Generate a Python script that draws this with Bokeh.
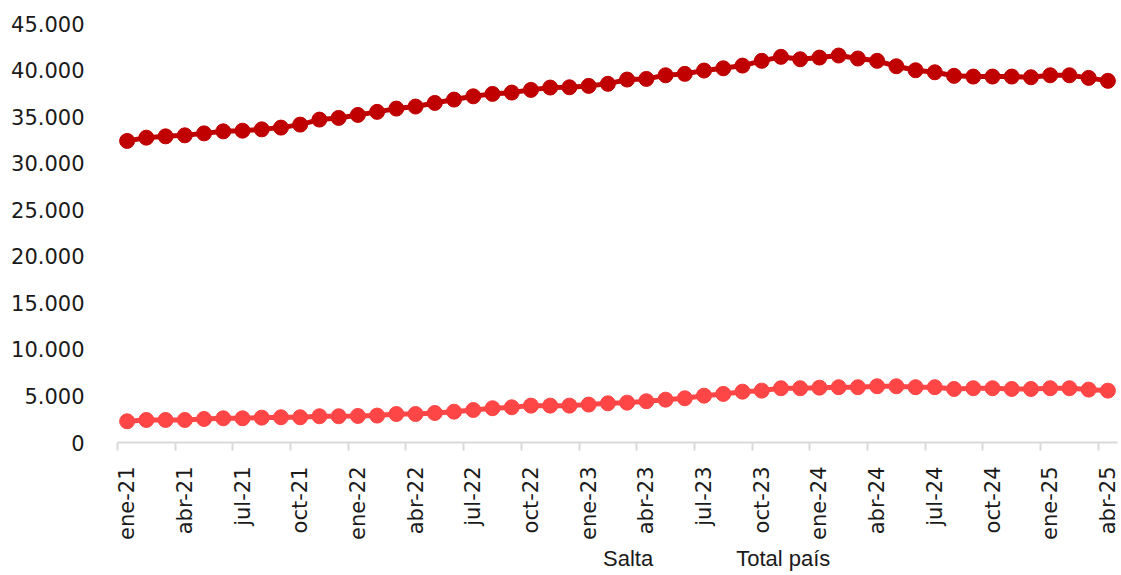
import math
from bokeh.plotting import figure
from bokeh.layouts import column
from bokeh.models import ColumnDataSource, FixedTicker, Range1d, Legend, LegendItem
from bokeh.embed import file_html
from bokeh.resources import INLINE

months = ["ene", "feb", "mar", "abr", "may", "jun", "jul", "ago", "sep", "oct", "nov", "dic"]
categories = [f"{m}-{y}" for y in ["21", "22", "23", "24"] for m in months] + ["ene-25", "feb-25", "mar-25", "abr-25"]

salta = [2280, 2420, 2420, 2420, 2530, 2600, 2600, 2670, 2710, 2710,
         2820, 2820, 2850, 2890, 3060, 3060, 3170, 3310, 3490, 3680,
         3780, 3960, 3960, 3960, 4070, 4210, 4280, 4430, 4600, 4750,
         5030, 5220, 5460, 5570, 5830, 5830, 5890, 5940, 5940, 6040,
         6040, 5940, 5940, 5750, 5830, 5830, 5750, 5750, 5830, 5830,
         5680, 5570]

total_pais = [32390, 32740, 32880, 32990, 33200, 33420, 33490, 33630, 33820, 34140,
              34680, 34860, 35180, 35510, 35860, 36080, 36470, 36830, 37180, 37440,
              37580, 37870, 38120, 38150, 38300, 38520, 38980, 39050, 39440, 39590,
              39950, 40190, 40480, 40990, 41420, 41160, 41340, 41560, 41240, 40990,
              40410, 39980, 39760, 39380, 39300, 39300, 39300, 39230, 39440, 39440,
              39160, 38840]

y_ticks = list(range(0, 45001, 5000))
y_labels = ["0", "5.000", "10.000", "15.000", "20.000", "25.000", "30.000", "35.000", "40.000", "45.000"]

series_names = ["Salta", "Total país"]
series_colors = ["#FF4646", "#C00000"]

x = list(range(len(categories)))
src = ColumnDataSource(dict(x=x, cat=categories, salta=salta, total=total_pais))

p = figure(frame_width=1000, frame_height=419, output_backend="svg", toolbar_location=None,
           x_range=Range1d(-0.5, len(categories) - 0.5), y_range=Range1d(0, 45000),
           min_border_left=117, min_border_right=4, min_border_top=23, min_border_bottom=0)
p.outline_line_color = None
p.xgrid.visible = False
p.ygrid.visible = False
p.background_fill_color = "white"
p.border_fill_color = "white"

p.line("x", "salta", source=src, line_color=series_colors[0], line_width=5)
p.scatter("x", "salta", source=src, size=15, fill_color=series_colors[0], line_color=series_colors[0])
p.line("x", "total", source=src, line_color=series_colors[1], line_width=5)
p.scatter("x", "total", source=src, size=15, fill_color=series_colors[1], line_color=series_colors[1])

# Y axis
ya = p.yaxis[0]
ya.ticker = FixedTicker(ticks=y_ticks)
ya.major_label_overrides = {t: l for t, l in zip(y_ticks, y_labels)}
ya.axis_line_color = None
ya.major_tick_line_color = None
ya.minor_tick_line_color = None
ya.major_label_standoff = 27
ya.major_label_text_font = "DejaVu Sans"
ya.major_label_text_font_size = "21px"
ya.major_label_text_color = "#1a1a1a"

# X axis
label_idx = list(range(0, len(categories), 3))
boundaries = [i - 0.5 for i in label_idx]
xa = p.xaxis[0]
xa.ticker = FixedTicker(ticks=label_idx, minor_ticks=boundaries)
xa.major_label_overrides = {i: categories[i] for i in label_idx}
xa.major_label_orientation = math.pi / 2
xa.axis_line_color = "#D9D9D9"
xa.axis_line_width = 2
xa.major_tick_line_color = None
xa.major_tick_out = 0
xa.major_tick_in = 0
xa.minor_tick_line_color = "#D9D9D9"
xa.minor_tick_line_width = 2
xa.minor_tick_out = 8
xa.minor_tick_in = 0
xa.major_label_standoff = 16
xa.major_label_text_font = "DejaVu Sans"
xa.major_label_text_font_size = "21px"
xa.major_label_text_color = "#1a1a1a"

# Legend strip (separate small figure below the chart)
lf = figure(width=1121, height=34, output_backend="svg", toolbar_location=None,
            x_range=Range1d(0, 1), y_range=Range1d(0, 1),
            min_border_left=0, min_border_right=0, min_border_top=0, min_border_bottom=0)
lf.axis.visible = False
lf.grid.visible = False
lf.outline_line_color = None
lf.background_fill_color = "white"
lf.border_fill_color = "white"
empty = ColumnDataSource(dict(x=[], y=[]))
l1 = lf.line("x", "y", source=empty, line_color=series_colors[0], line_width=5)
c1 = lf.scatter("x", "y", source=empty, size=15, fill_color=series_colors[0], line_color=series_colors[0])
l2 = lf.line("x", "y", source=empty, line_color=series_colors[1], line_width=5)
c2 = lf.scatter("x", "y", source=empty, size=15, fill_color=series_colors[1], line_color=series_colors[1])

legend = Legend(items=[LegendItem(label=series_names[0], renderers=[l1, c1]),
                       LegendItem(label=series_names[1], renderers=[l2, c2])],
                orientation="horizontal", location=(427, 4))
legend.border_line_color = None
legend.background_fill_alpha = 0
legend.padding = 0
legend.margin = 0
legend.spacing = 24
legend.glyph_width = 55
legend.glyph_height = 22
legend.label_standoff = 4
legend.label_height = 22
legend.label_text_font = "Liberation Sans"
legend.label_text_font_size = "22px"
legend.label_text_color = "#1a1a1a"
lf.add_layout(legend, "center")

layout = column(p, lf, spacing=0)
open("out.html", "w").write(file_html(layout, INLINE))
